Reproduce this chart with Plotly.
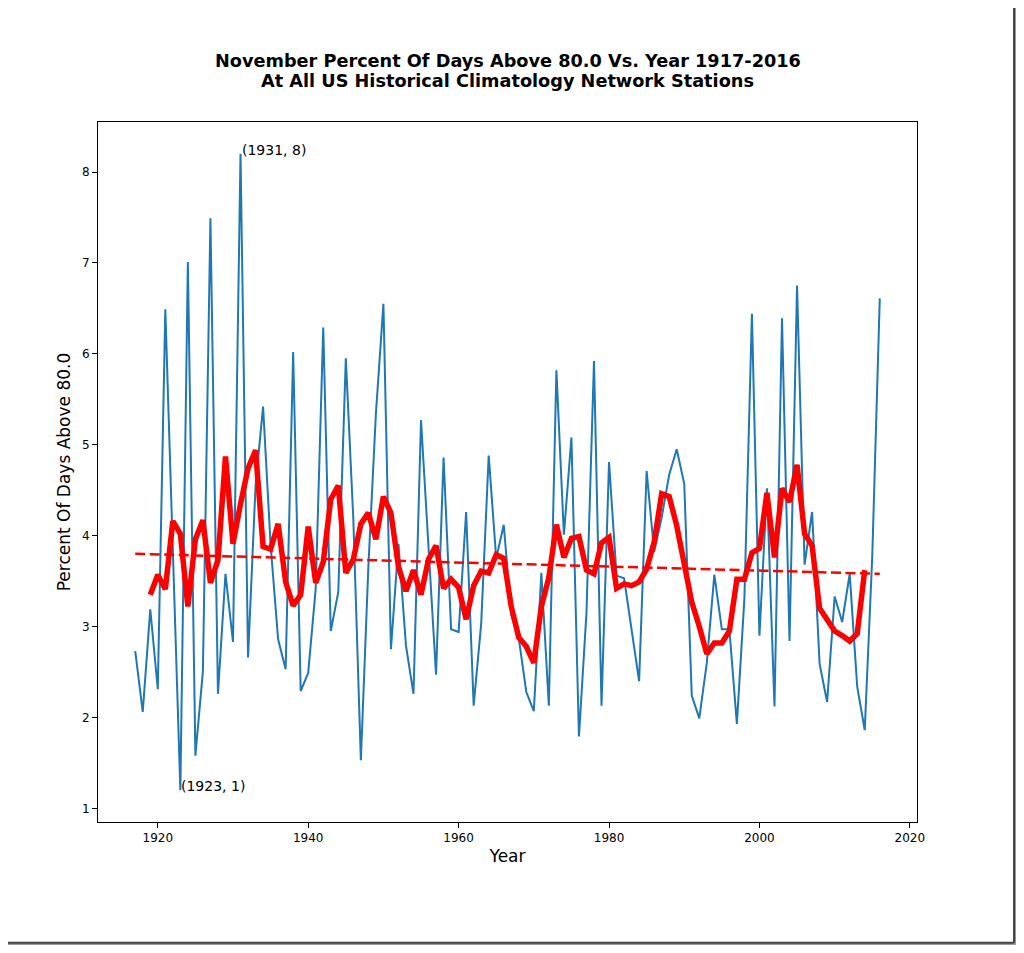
import plotly.graph_objects as go

# values
years = list(range(1917, 2017))
pct_days = [
    2.73, 2.06, 3.19, 2.31, 6.49, 3.80, 1.20, 7.01, 1.58, 2.51,
    7.49, 2.26, 3.58, 2.83, 8.20, 2.66, 4.55, 5.42, 3.90, 2.86,
    2.53, 6.02, 2.29, 2.49, 3.42, 6.29, 2.95, 3.38, 5.95, 4.18,
    1.53, 3.66, 5.34, 6.55, 2.75, 3.91, 2.79, 2.26, 5.27, 3.87,
    2.47, 4.86, 2.97, 2.94, 4.26, 2.13, 3.03, 4.88, 3.75, 4.12,
    3.13, 2.87, 2.28, 2.07, 3.59, 2.13, 5.82, 4.01, 5.08, 1.79,
    3.15, 5.92, 2.13, 4.81, 3.56, 3.53, 2.98, 2.40, 4.71, 3.82,
    4.20, 4.67, 4.95, 4.57, 2.24, 1.99, 2.60, 3.57, 2.97, 2.97,
    1.93, 3.31, 6.44, 2.90, 4.52, 2.12, 6.39, 2.84, 6.75, 3.68,
    4.26, 2.59, 2.17, 3.33, 3.05, 3.58, 2.34, 1.86, 3.77, 6.61,
]

avg_years = list(range(1919, 2015))
pct_avg = [
    3.35, 3.57, 3.41, 4.16, 4.02, 3.22, 3.96, 4.17, 3.48, 3.73,
    4.87, 3.91, 4.35, 4.74, 4.94, 3.88, 3.85, 4.13, 3.49, 3.23,
    3.35, 4.10, 3.48, 3.71, 4.40, 4.55, 3.59, 3.74, 4.13, 4.25,
    3.96, 4.43, 4.25, 3.66, 3.39, 3.62, 3.35, 3.74, 3.89, 3.42,
    3.52, 3.43, 3.08, 3.45, 3.61, 3.59, 3.79, 3.75, 3.22, 2.88,
    2.78, 2.60, 3.22, 3.54, 4.12, 3.76, 3.97, 3.99, 3.62, 3.58,
    3.92, 3.98, 3.42, 3.47, 3.45, 3.49, 3.63, 3.93, 4.46, 4.43,
    4.11, 3.67, 3.27, 3.00, 2.70, 2.82, 2.82, 2.95, 3.52, 3.52,
    3.81, 3.86, 4.47, 3.76, 4.52, 4.37, 4.78, 4.02, 3.89, 3.20,
    3.08, 2.95, 2.90, 2.84, 2.92, 3.62,
]

trend_years = [1917, 2016]
trend_vals = [3.80, 3.58]

max_pt = (1931, 8.20, "(1931, 8)")
min_pt = (1923, 1.20, "(1923, 1)")

title_lines = [
    "November Percent Of Days Above 80.0 Vs. Year 1917-2016",
    "At All US Historical Climatology Network Stations",
]

font = "DejaVu Sans"

fig = go.Figure()
fig.add_trace(go.Scatter(
    x=years, y=pct_days, mode='lines',
    line=dict(color='#1f77b4', width=2),
    showlegend=False
))
fig.add_trace(go.Scatter(
    x=avg_years, y=pct_avg, mode='lines',
    line=dict(color='red', width=5.5),
    showlegend=False
))
fig.add_trace(go.Scatter(
    x=trend_years, y=trend_vals, mode='lines',
    line=dict(color='red', width=2.5, dash='10px,4.5px'),
    showlegend=False
))

for px, py, label in (max_pt, min_pt):
    fig.add_annotation(
        x=px, y=py, text=label, showarrow=False,
        xanchor='left', yanchor='bottom', yshift=-6, xshift=-1,
        font=dict(family=font, size=14, color='black')
    )

# two title lines, 20px apart as in the picture
for i, line in enumerate(title_lines):
    fig.add_annotation(
        x=0.5, y=1.0871 - i * 20 / 700, xref='paper', yref='paper',
        xanchor='center', yanchor='middle', showarrow=False,
        text="<b>%s</b>" % line,
        font=dict(family=font, size=17.7, color='black')
    )

# picture frame with a drop shadow round the whole image
fig.add_shape(type='rect', xref='paper', yref='paper',
              x0=-0.1185, x1=1.1185, y0=1.1715, y1=-0.1725,
              line=dict(color='#e4e4e4', width=1))
fig.add_shape(type='line', xref='paper', yref='paper',
              x0=1.1205, x1=1.1205, y0=1.168, y1=-0.1745,
              line=dict(color='#9a9a9a', width=3))
fig.add_shape(type='line', xref='paper', yref='paper',
              x0=-0.115, x1=1.1205, y0=-0.1745, y1=-0.1745,
              line=dict(color='#9a9a9a', width=3))
fig.add_shape(type='line', xref='paper', yref='paper',
              x0=1.1185, x1=1.1185, y0=1.1715, y1=-0.1725,
              line=dict(color='#444444', width=2))
fig.add_shape(type='line', xref='paper', yref='paper',
              x0=-0.1185, x1=1.1185, y0=-0.1725, y1=-0.1725,
              line=dict(color='#444444', width=2))

fig.update_layout(
    width=1008, height=937,
    margin=dict(l=90, r=99, t=114, b=123),
    paper_bgcolor='white', plot_bgcolor='white',
    font=dict(family=font, size=12, color='black'),
    xaxis=dict(
        range=[1912.05, 2020.95], tickvals=[1920, 1940, 1960, 1980, 2000, 2020],
        showgrid=False, zeroline=False,
        showline=True, linecolor='black', linewidth=1, mirror=True,
        ticks='outside', ticklen=5, tickcolor='black',
        tickfont=dict(size=12),
        title=dict(text='Year', font=dict(size=17), standoff=5)
    ),
    yaxis=dict(
        range=[0.85, 8.55], tickvals=[1, 2, 3, 4, 5, 6, 7, 8],
        showgrid=False, zeroline=False,
        showline=True, linecolor='black', linewidth=1, mirror=True,
        ticks='outside', ticklen=5, tickcolor='black',
        tickfont=dict(size=12),
        title=dict(text='Percent Of Days Above 80.0', font=dict(size=17), standoff=7)
    ),
)

fig.write_html("out.html")
